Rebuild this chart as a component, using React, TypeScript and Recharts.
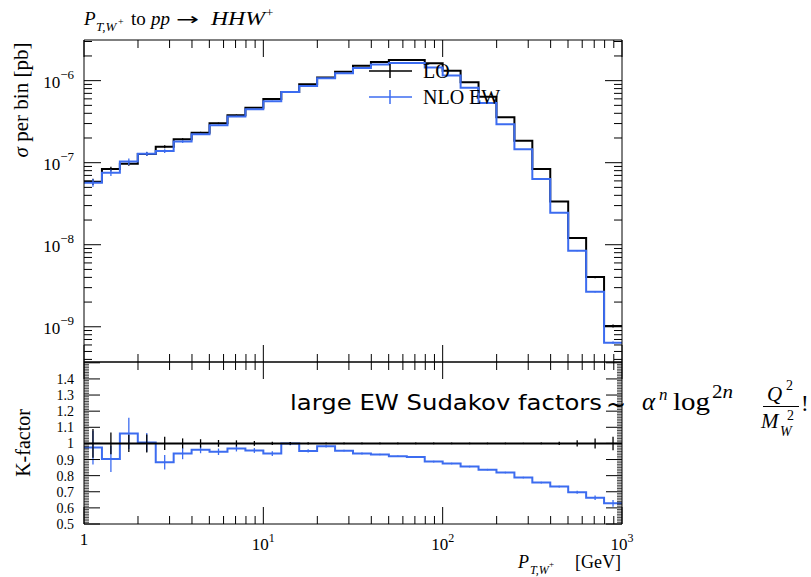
import React from 'react';
import { ComposedChart, Line, Scatter, XAxis, YAxis, ErrorBar } from 'recharts';

// ---------- data ----------
const binEdges = [1, 1.259, 1.585, 1.995, 2.512, 3.162, 3.981, 5.012, 6.31, 7.943, 10, 12.59, 15.85, 19.95, 25.12, 31.62, 39.81, 50.12, 63.1, 79.43, 100, 125.9, 158.5, 199.5, 251.2, 316.2, 398.1, 501.2, 631.0, 794.3, 1000];
const loXsec = [5.85e-8, 8.37e-8, 9.73e-8, 1.277e-7, 1.567e-7, 1.93e-7, 2.32e-7, 3.02e-7, 3.79e-7, 4.69e-7, 5.98e-7, 7.28e-7, 9.03e-7, 1.09e-6, 1.285e-6, 1.52e-6, 1.69e-6, 1.79e-6, 1.79e-6, 1.63e-6, 1.32e-6, 9.56e-7, 6.38e-7, 3.58e-7, 1.85e-7, 8.37e-8, 3.36e-8, 1.21e-8, 4.03e-9, 1.02e-9];
const kFactor = [0.974, 0.904, 1.062, 1.006, 0.883, 0.937, 0.961, 0.948, 0.968, 0.956, 0.937, 0.999, 0.953, 0.982, 0.955, 0.937, 0.931, 0.92, 0.916, 0.887, 0.875, 0.856, 0.837, 0.819, 0.788, 0.757, 0.732, 0.697, 0.663, 0.628];
const loRelErr = [0.089, 0.068, 0.054, 0.056, 0.041, 0.031, 0.026, 0.021, 0.019, 0.015, 0.01, 0.008, 0.007, 0.006, 0.006, 0.006, 0.005, 0.005, 0.005, 0.005, 0.005, 0.005, 0.005, 0.005, 0.004, 0.006, 0.01, 0.019, 0.031, 0.042];
const nloRatioErr = [0.105, 0.081, 0.097, 0.058, 0.045, 0.035, 0.022, 0.02, 0.018, 0.015, 0.015, 0.01, 0.01, 0.008, 0.006, 0.006, 0.005, 0.005, 0.005, 0.005, 0.005, 0.005, 0.005, 0.005, 0.005, 0.005, 0.006, 0.01, 0.0145, 0.021];

const xMajorTicks = [1, 10, 100, 1000];
const xMinorTicks = [2, 3, 4, 5, 6, 7, 8, 9, 20, 30, 40, 50, 60, 70, 80, 90, 200, 300, 400, 500, 600, 700, 800, 900];
const xTickLabels: Record<number, [string, string]> = { 1: ['1', ''], 10: ['10', '1'], 100: ['10', '2'], 1000: ['10', '3'] };
const yMajorTicks = [1e-9, 1e-8, 1e-7, 1e-6];
const yMajorLabels = ['\u22129', '\u22128', '\u22127', '\u22126'];
const ratioLabelTicks = [0.5, 0.6, 0.7, 0.8, 0.9, 1, 1.1, 1.2, 1.3, 1.4];
const ratioLabelText = ['0.5', '0.6', '0.7', '0.8', '0.9', '1', '1.1', '1.2', '1.3', '1.4'];

// ---------- layout ----------
const W = 811;
const H = 577;
const PL = 84;
const PR = 622;
const TOP = 40;
const SPLIT = 362;
const BOTTOM = 524;
const AX = 1; // thickness reserved by each axis
const BLUE = '#3c6cf0';
const TOP_DOMAIN = [3.72e-10, 3.13e-6];
const RATIO_DOMAIN = [0.5, 1.505];

// ---------- derived series ----------
const nloXsec = loXsec.map((v, i) => v * kFactor[i]);
const stepOf = (vals: number[]) => binEdges.map((x, i) => ({ x, y: vals[Math.min(i, vals.length - 1)] }));
const centers = loXsec.map((_, i) => Math.sqrt(binEdges[i] * binEdges[i + 1]));

const loStep = stepOf(loXsec);
const nloStep = stepOf(nloXsec);
const loErrPts = centers.map((x, i) => ({ x, y: loXsec[i], e: loRelErr[i] * loXsec[i] }));
const nloErrPts = centers.map((x, i) => ({ x, y: nloXsec[i], e: nloRatioErr[i] * loXsec[i] }));

const oneStep = stepOf(loXsec.map(() => 1));
const kStep = stepOf(kFactor);
const oneErrPts = centers.map((x, i) => ({ x, y: 1, e: loRelErr[i] }));
const kErrPts = centers.map((x, i) => ({ x, y: kFactor[i], e: nloRatioErr[i] }));

const allXTicks = [...xMajorTicks, ...xMinorTicks].sort((a, b) => a - b);
const yTopTicks: number[] = [];
[1e-10, 1e-9, 1e-8, 1e-7, 1e-6].forEach((d) => {
  for (let m = 1; m <= 9; m++) {
    const v = m * d;
    if (v >= TOP_DOMAIN[0] && v <= TOP_DOMAIN[1]) yTopTicks.push(v);
  }
});
const ratioTicks: number[] = [];
for (let k = 50; k <= 150; k++) ratioTicks.push(k / 100);

const isMajorX = (v: number) => xMajorTicks.some((t) => Math.abs(t - v) < 1e-9);
const isMajorYTop = (v: number) => yMajorTicks.some((t) => Math.abs(v / t - 1) < 1e-6);
const isMajorRatio = (v: number) => Math.abs(v * 10 - Math.round(v * 10)) < 1e-6;

const SERIF = '"Liberation Serif", "Times New Roman", serif';

// custom ticks draw inward tick marks relative to the frame edge
const makeXTick = (dir: number, edgeY: number, labels: boolean) => (props: any) => {
  const { x, payload } = props;
  const v = payload.value;
  const major = isMajorX(v);
  const len = major ? 17 : 8;
  const lab = xTickLabels[v];
  return (
    <g>
      <line x1={x} x2={x} y1={edgeY} y2={edgeY + dir * len} stroke="#000" strokeWidth={1} />
      {labels && major && lab && (
        <text x={x} y={lab[1] ? 550 : 545} textAnchor="middle" fontFamily={SERIF} fontSize={17} fill="#000">
          {lab[0]}
          {lab[1] && (
            <tspan dy={-8} fontSize={12}>
              {lab[1]}
            </tspan>
          )}
        </text>
      )}
    </g>
  );
};

const makeYTopTick = (dir: number, edgeX: number, labels: boolean) => (props: any) => {
  const { y, payload } = props;
  const v = payload.value;
  const major = isMajorYTop(v);
  const len = major ? 17 : 8;
  const idx = yMajorTicks.findIndex((t) => Math.abs(v / t - 1) < 1e-6);
  return (
    <g>
      <line x1={edgeX} x2={edgeX + dir * len} y1={y} y2={y} stroke="#000" strokeWidth={1} />
      {labels && major && idx >= 0 && (
        <text x={74} y={y + 7} textAnchor="end" fontFamily={SERIF} fontSize={17} fill="#000">
          10
          <tspan dy={-9} fontSize={13}>
            {yMajorLabels[idx]}
          </tspan>
        </text>
      )}
    </g>
  );
};

const makeRatioTick = (dir: number, edgeX: number, labels: boolean) => (props: any) => {
  const { y, payload } = props;
  const v = payload.value;
  const major = isMajorRatio(v);
  const len = major ? 16 : 5;
  const idx = ratioLabelTicks.findIndex((t) => Math.abs(t - v) < 1e-6);
  return (
    <g>
      <line x1={edgeX} x2={edgeX + dir * len} y1={y} y2={y} stroke="#000" strokeWidth={major ? 1 : 0.7} />
      {labels && idx >= 0 && (
        <text x={74} y={y + 5} textAnchor="end" fontFamily={SERIF} fontSize={14} fill="#000">
          {ratioLabelText[idx]}
        </text>
      )}
    </g>
  );
};

const noShape = () => <g />;

const axisLine = { stroke: '#000', strokeWidth: 1 };

const margins = (top: number, bottom: number) => ({
  top: top - AX,
  bottom: H - bottom - AX,
  left: PL - AX,
  right: W - PR - AX,
});

function TopPanel() {
  return (
    <ComposedChart width={W} height={H} margin={margins(TOP, SPLIT)}>
      <XAxis xAxisId="b" dataKey="x" type="number" scale="log" domain={[1, 1000]} allowDataOverflow ticks={allXTicks} interval={0} height={AX} tickSize={0} tickMargin={0} tickLine={false} axisLine={axisLine} tick={makeXTick(-1, SPLIT, false)} />
      <XAxis xAxisId="t" orientation="top" dataKey="x" type="number" scale="log" domain={[1, 1000]} allowDataOverflow ticks={allXTicks} interval={0} height={AX} tickSize={0} tickMargin={0} tickLine={false} axisLine={axisLine} tick={makeXTick(1, TOP, false)} />
      <YAxis yAxisId="l" dataKey="y" type="number" scale="log" domain={TOP_DOMAIN} allowDataOverflow ticks={yTopTicks} interval={0} width={AX} tickSize={0} tickMargin={0} tickLine={false} axisLine={axisLine} tick={makeYTopTick(1, PL, true)} />
      <YAxis yAxisId="r" orientation="right" dataKey="y" type="number" scale="log" domain={TOP_DOMAIN} allowDataOverflow ticks={yTopTicks} interval={0} width={AX} tickSize={0} tickMargin={0} tickLine={false} axisLine={axisLine} tick={makeYTopTick(-1, PR, false)} />
      <Line xAxisId="b" yAxisId="l" data={loStep} dataKey="y" type="stepAfter" stroke="#000" strokeWidth={2} dot={false} isAnimationActive={false} />
      <Scatter xAxisId="b" yAxisId="l" data={loErrPts} dataKey="y" shape={noShape} isAnimationActive={false}>
        <ErrorBar dataKey="e" direction="y" width={0} stroke="#000" strokeWidth={1.3} />
      </Scatter>
      <Line xAxisId="b" yAxisId="l" data={nloStep} dataKey="y" type="stepAfter" stroke={BLUE} strokeWidth={2} dot={false} isAnimationActive={false} />
      <Scatter xAxisId="b" yAxisId="l" data={nloErrPts} dataKey="y" shape={noShape} isAnimationActive={false}>
        <ErrorBar dataKey="e" direction="y" width={0} stroke={BLUE} strokeWidth={1.3} />
      </Scatter>
      {/* bind secondary axes to an invisible copy so they get a domain */}
      <Line xAxisId="t" yAxisId="r" data={loStep} dataKey="y" type="stepAfter" stroke="none" dot={false} legendType="none" isAnimationActive={false} />
    </ComposedChart>
  );
}

function RatioPanel() {
  return (
    <ComposedChart width={W} height={H} margin={margins(SPLIT, BOTTOM)}>
      <XAxis xAxisId="b" dataKey="x" type="number" scale="log" domain={[1, 1000]} allowDataOverflow ticks={allXTicks} interval={0} height={AX} tickSize={0} tickMargin={0} tickLine={false} axisLine={axisLine} tick={makeXTick(-1, BOTTOM, true)} />
      <XAxis xAxisId="t" orientation="top" dataKey="x" type="number" scale="log" domain={[1, 1000]} allowDataOverflow ticks={allXTicks} interval={0} height={AX} tickSize={0} tickMargin={0} tickLine={false} axisLine={axisLine} tick={makeXTick(1, SPLIT, false)} />
      <YAxis yAxisId="l" dataKey="y" type="number" domain={RATIO_DOMAIN} allowDataOverflow ticks={ratioTicks} interval={0} width={AX} tickSize={0} tickMargin={0} tickLine={false} axisLine={axisLine} tick={makeRatioTick(1, PL, true)} />
      <YAxis yAxisId="r" orientation="right" dataKey="y" type="number" domain={RATIO_DOMAIN} allowDataOverflow ticks={ratioTicks} interval={0} width={AX} tickSize={0} tickMargin={0} tickLine={false} axisLine={axisLine} tick={makeRatioTick(-1, PR, false)} />
      <Line xAxisId="b" yAxisId="l" data={kStep} dataKey="y" type="stepAfter" stroke={BLUE} strokeWidth={2} dot={false} isAnimationActive={false} />
      <Scatter xAxisId="b" yAxisId="l" data={kErrPts} dataKey="y" shape={noShape} isAnimationActive={false}>
        <ErrorBar dataKey="e" direction="y" width={0} stroke={BLUE} strokeWidth={1.3} />
      </Scatter>
      <Line xAxisId="b" yAxisId="l" data={oneStep} dataKey="y" type="stepAfter" stroke="#000" strokeWidth={2} dot={false} isAnimationActive={false} />
      <Scatter xAxisId="b" yAxisId="l" data={oneErrPts} dataKey="y" shape={noShape} isAnimationActive={false}>
        <ErrorBar dataKey="e" direction="y" width={0} stroke="#000" strokeWidth={1.3} />
      </Scatter>
      <Line xAxisId="t" yAxisId="r" data={oneStep} dataKey="y" type="stepAfter" stroke="none" dot={false} legendType="none" isAnimationActive={false} />
    </ComposedChart>
  );
}

function Overlay() {
  return (
    <svg width={W} height={H} style={{ position: 'absolute', left: 0, top: 0, pointerEvents: 'none' }}>
      <g fontFamily={SERIF} fill="#000">
        {/* title */}
        <text x={84} y={25} fontSize={19} fontStyle="italic">P</text>
        <text x={96} y={31} fontSize={13} fontStyle="italic">T,W</text>
        <text x={118} y={25} fontSize={10}>+</text>
        <text x={131} y={25} fontSize={19}>to</text>
        <text x={151} y={25} fontSize={19} fontStyle="italic">pp</text>
        <text x={176} y={25} fontSize={17} fontFamily='"DejaVu Sans", sans-serif' textLength={23} lengthAdjust="spacingAndGlyphs">{'\u2192'}</text>
        <text x={211} y={25} fontSize={19} fontStyle="italic" textLength={54} lengthAdjust="spacingAndGlyphs">HHW</text>
        <text x={266} y={17} fontSize={13}>+</text>

        {/* y labels */}
        <text x={28} y={100} fontSize={20} textAnchor="middle" transform="rotate(-90 28 100)" textLength={115} lengthAdjust="spacingAndGlyphs">
          <tspan fontStyle="italic">{'\u03C3'}</tspan> per bin [pb]
        </text>
        <text x={30} y={443} fontSize={20} textAnchor="middle" transform="rotate(-90 30 443)">K-factor</text>

        {/* x label */}
        <text x={518} y={568} fontSize={18} fontStyle="italic">P</text>
        <text x={530} y={574} fontSize={12} fontStyle="italic">T,W</text>
        <text x={549} y={567} fontSize={9}>+</text>
        <text x={621} y={568} fontSize={18} textAnchor="end">[GeV]</text>

        {/* legend */}
        <line x1={369} x2={412} y1={71} y2={71} stroke="#000" strokeWidth={1.5} />
        <line x1={390} x2={390} y1={64} y2={78} stroke="#000" strokeWidth={1.5} />
        <text x={423} y={78} fontSize={20}>LO</text>
        <line x1={369} x2={412} y1={97} y2={97} stroke={BLUE} strokeWidth={1.5} />
        <line x1={390} x2={390} y1={90} y2={104} stroke={BLUE} strokeWidth={1.5} />
        <text x={423} y={104} fontSize={20}>NLO EW</text>

        {/* annotation */}
        <text x={290} y={410} fontSize={21} fontFamily='"DejaVu Sans", sans-serif' textLength={312} lengthAdjust="spacingAndGlyphs">large EW Sudakov factors</text>
        <text x={606} y={413} fontSize={24} fontFamily='"DejaVu Sans", sans-serif'>~</text>
        <text x={642} y={410} fontSize={25} fontStyle="italic">{'\u03B1'}</text>
        <text x={659} y={400} fontSize={17} fontStyle="italic">n</text>
        <text x={673} y={410} fontSize={25} textLength={37} lengthAdjust="spacingAndGlyphs">log</text>
        <text x={712} y={398} fontSize={18} textLength={21} lengthAdjust="spacingAndGlyphs">2<tspan fontStyle="italic">n</tspan></text>
        <text x={767} y={401} fontSize={21} fontStyle="italic">Q</text>
        <text x={786} y={390} fontSize={14}>2</text>
        <line x1={763} x2={799} y1={406.5} y2={406.5} stroke="#000" strokeWidth={1} />
        <text x={761} y={428} fontSize={21} fontStyle="italic">M</text>
        <text x={780} y={436} fontSize={14} fontStyle="italic">W</text>
        <text x={787} y={420} fontSize={14}>2</text>
        <text x={801} y={411} fontSize={23}>!</text>
      </g>
    </svg>
  );
}

export default function App() {
  return (
    <div style={{ position: 'absolute', left: 0, top: 0, width: W, height: H, background: '#fff', overflow: 'hidden' }}>
      <div style={{ position: 'absolute', left: 0, top: 0 }}>
        <TopPanel />
      </div>
      <div style={{ position: 'absolute', left: 0, top: 0 }}>
        <RatioPanel />
      </div>
      <Overlay />
    </div>
  );
}
